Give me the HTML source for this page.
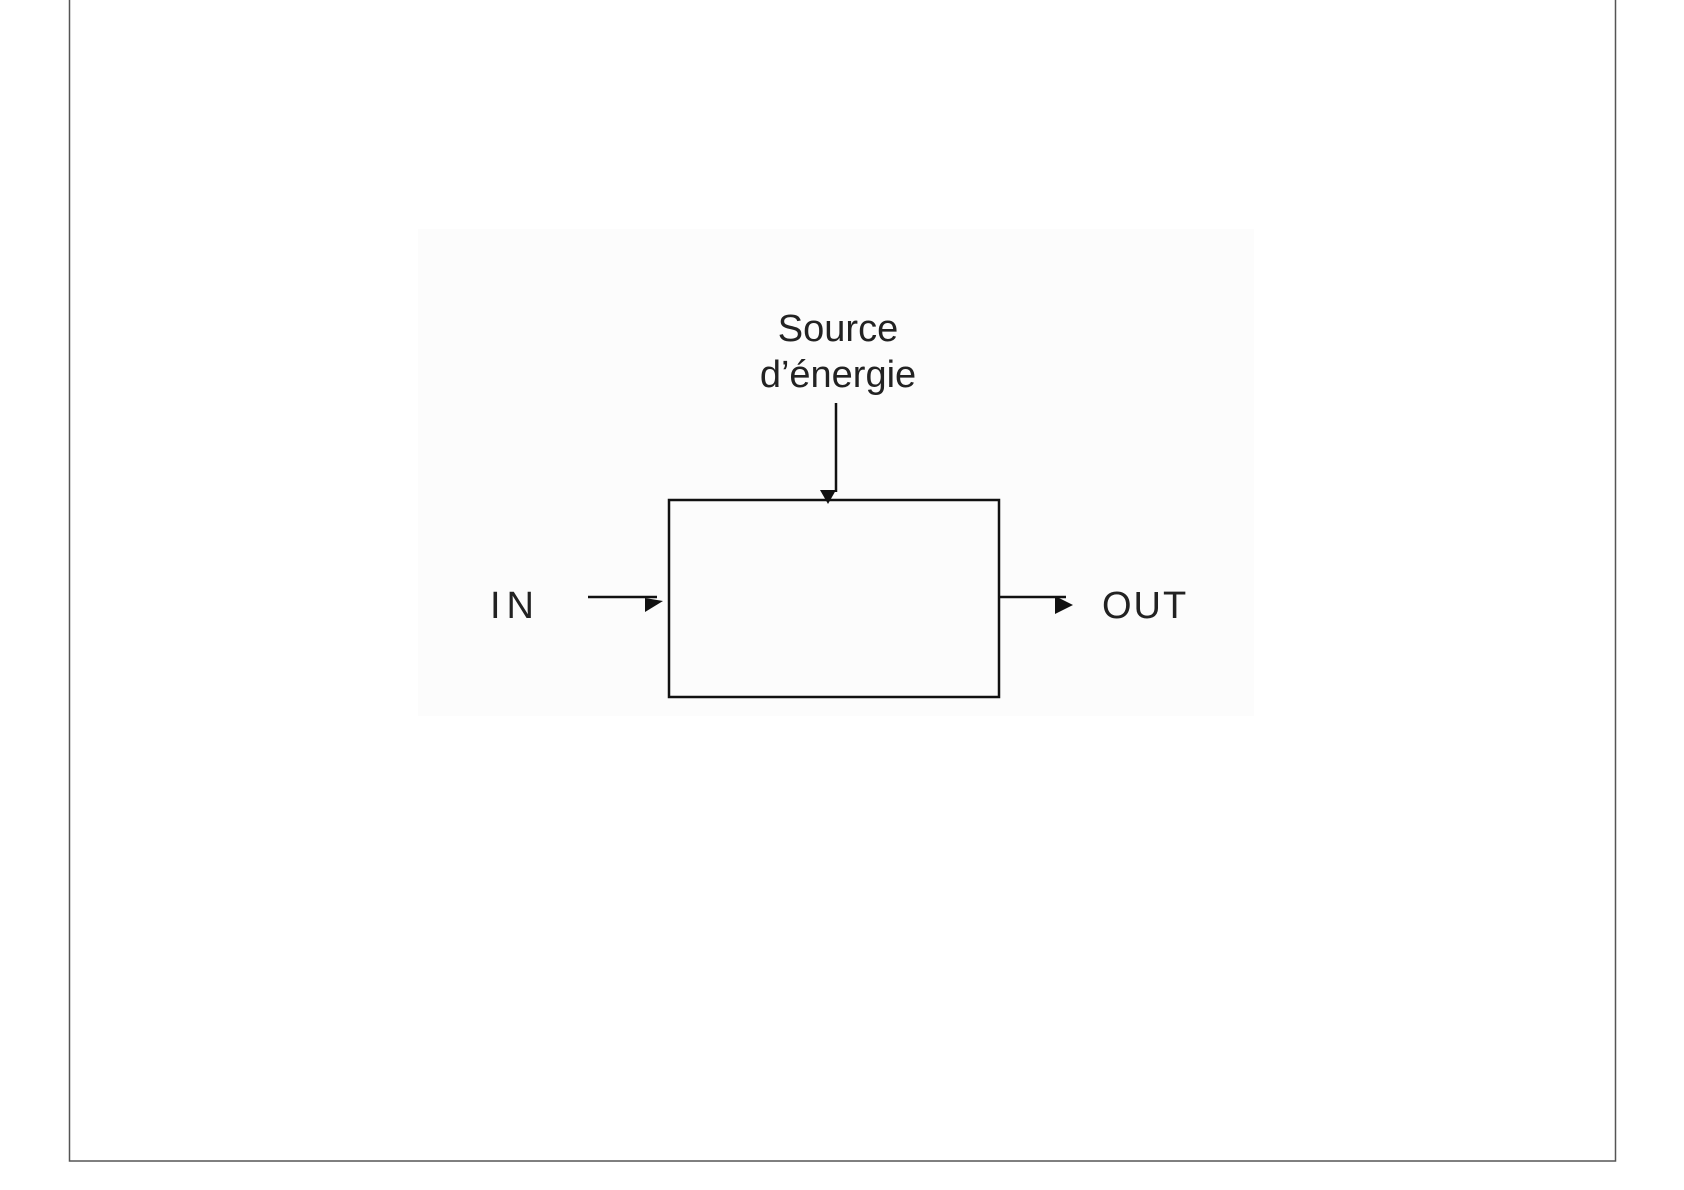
<!DOCTYPE html>
<html><head><meta charset="utf-8"><style>
html,body{margin:0;padding:0;background:#fff;}
body{width:1684px;height:1190px;position:relative;overflow:hidden;font-family:"Liberation Sans",sans-serif;}
</style></head><body>
<svg width="1684" height="1190" viewBox="0 0 1684 1190" style="position:absolute;left:0;top:0">
<rect x="69.5" y="-1" width="1546" height="1162" fill="#fff" stroke="#555" stroke-width="1.5"/>
<rect x="418" y="229" width="836" height="487" fill="#fcfcfc"/>
<rect x="669" y="500" width="330" height="197" fill="none" stroke="#111" stroke-width="2.5"/>
<line x1="836" y1="403" x2="836" y2="492" stroke="#111" stroke-width="2.5"/>
<polygon points="820,490 836,490 828,504" fill="#111"/>
<line x1="588" y1="597" x2="657" y2="597" stroke="#111" stroke-width="2.5"/>
<polygon points="645,598 663,601 645,612" fill="#111"/>
<line x1="999" y1="597" x2="1066" y2="597" stroke="#111" stroke-width="2.5"/>
<polygon points="1055,596 1073,605 1055,614" fill="#111"/>
<g font-family="Liberation Sans, sans-serif" fill="#222" font-size="38">
<text x="838" y="341" text-anchor="middle">Source</text>
<text x="838" y="387" text-anchor="middle">d’énergie</text>
<text x="490" y="618" letter-spacing="6">IN</text>
<text x="1102" y="618" letter-spacing="2">OUT</text>
</g>
</svg>
</body></html>
